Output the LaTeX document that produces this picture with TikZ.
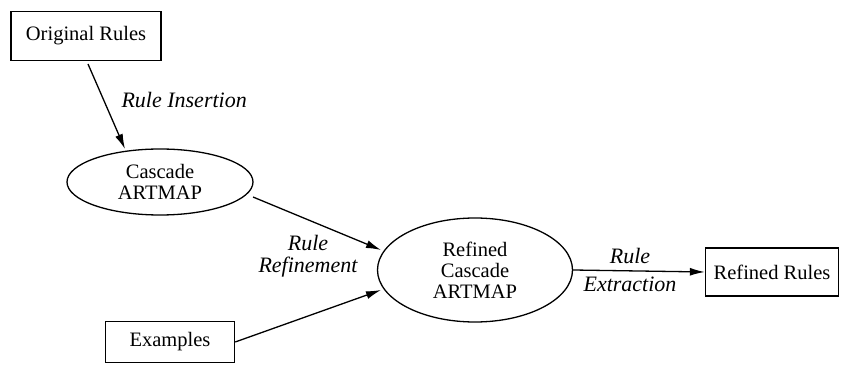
\documentclass[tikz,border=0pt]{standalone}
\usepackage{fontspec}
\setmainfont{Liberation Serif}
\usetikzlibrary{arrows.meta,shapes.geometric}
\begin{document}
\begin{tikzpicture}[x=1pt,y=-1pt,
  every node/.style={font=\fontsize{20.5}{23}\selectfont},
  box/.style={draw,line width=1.4pt,minimum width=#1,minimum height=49pt,inner sep=0pt},
  oval/.style={draw,ellipse,line width=1.3pt,align=center,inner sep=0pt},
  lbl/.style={font=\fontsize{22}{26}\selectfont\itshape,align=center},
  conn/.style={line width=1.3pt,-{Latex[length=15pt,width=8pt]}}]
  \useasboundingbox (0,0) rectangle (841,371);
  % boxes and ovals
  \node[box=150pt] (orig) at (86,36) {Original Rules};
  \node[oval,minimum width=186pt,minimum height=66pt] (casc) at (160,182)
    {Cascade\\[-2pt]ARTMAP};
  \node[oval,minimum width=195pt,minimum height=104pt] (ref) at (475,270)
    {Refined\\[-2pt]Cascade\\[-2pt]ARTMAP};
  \node[box=129pt,minimum height=41pt] (ex) at (170,342) {Examples};
  \node[box=133pt,minimum height=48pt] (out) at (772,272) {Refined Rules};
  % connectors
  \coordinate (a0) at (88,64);
  \coordinate (a1) at (125,149);
  \draw[conn] (a0) -- (a1);
  \node[lbl,anchor=west] (li) at (118,100) {Rule Insertion};
  \coordinate (b0) at (253,197);
  \coordinate (b1) at (381,250);
  \draw[conn] (b0) -- (b1);
  \coordinate (c1) at (381,290);
  \draw[conn] (ex.east) -- (c1);
  \node[lbl] (lr) at (308,256) {Rule\\[-4pt]Refinement};
  \draw[conn] (ref.east) -- (out.west);
  \node[lbl] (le) at (630,270) {Rule\\[2pt]Extraction};
\end{tikzpicture}
\end{document}
